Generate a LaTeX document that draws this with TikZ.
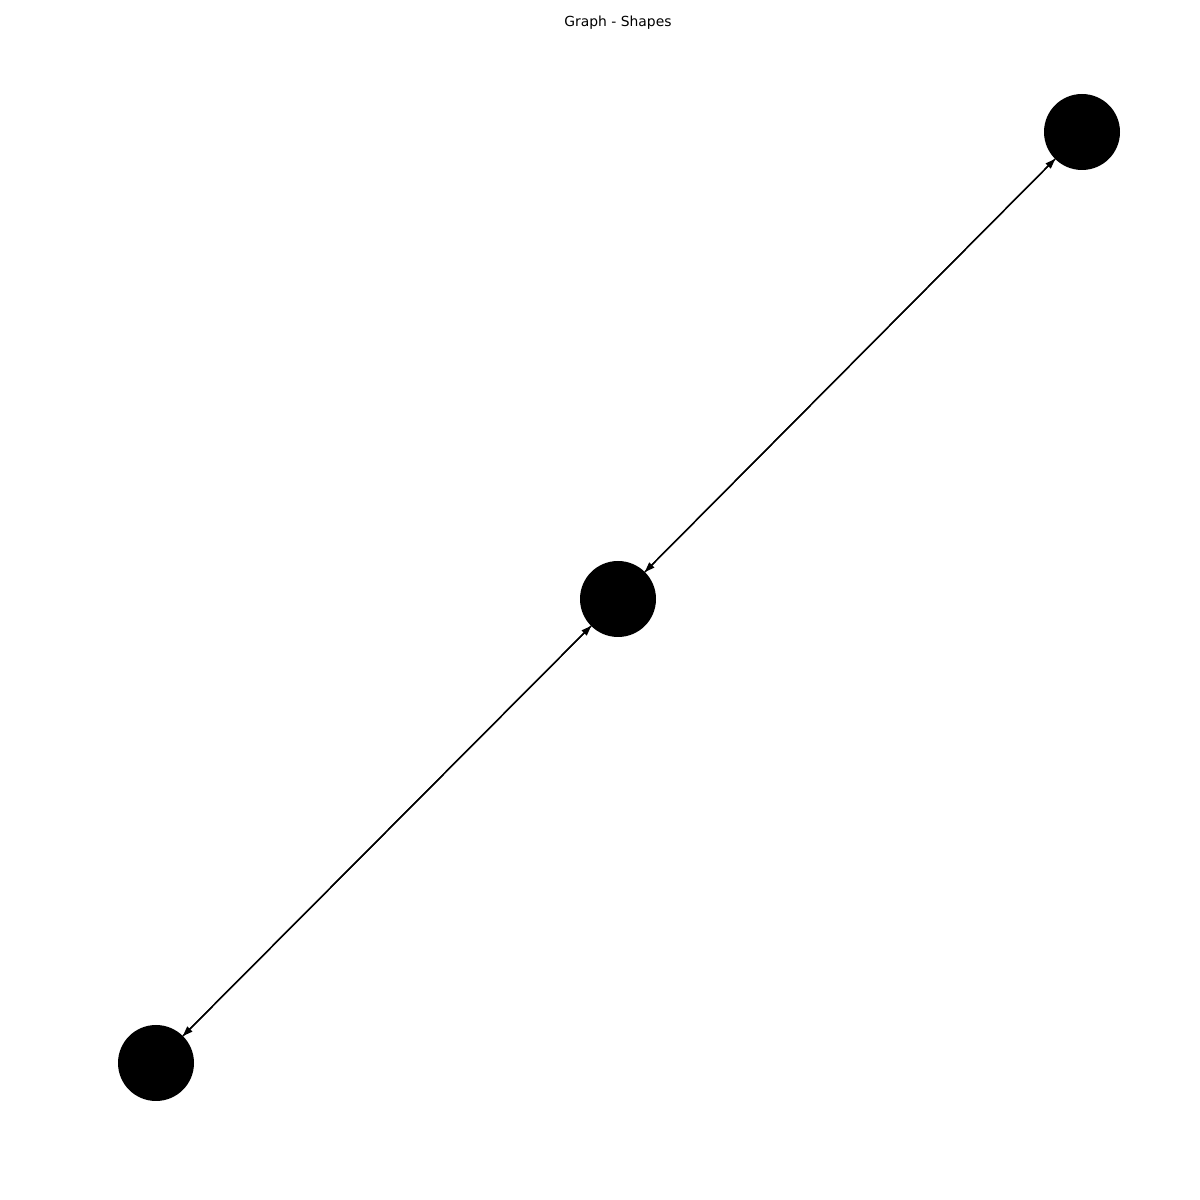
\documentclass[tikz,border=0pt]{standalone}
\usepackage{fontspec}
\setmainfont{DejaVu Sans}
\usetikzlibrary{arrows.meta}
\begin{document}
\begin{tikzpicture}[
  vertex/.style={circle, fill=black, draw=none, minimum size=0.76cm, inner sep=0pt, outer sep=0pt},
  link/.style={draw=black, line width=0.4pt, -{Triangle[length=0.1cm, width=0.07cm]}}
]
\useasboundingbox (0,0) rectangle (12,12);
\node[font=\fontsize{3.95}{4.7}\selectfont] (title) at (6.18,11.775) {Graph - Shapes};
\node[vertex] (t) at (10.82,10.68) {};
\node[vertex] (m) at (6.18,6.01) {};
\node[vertex] (b) at (1.56,1.37) {};
\draw[link] (m) -- (t);
\draw[link] (t) -- (m);
\draw[link] (m) -- (b);
\draw[link] (b) -- (m);
\end{tikzpicture}
\end{document}
